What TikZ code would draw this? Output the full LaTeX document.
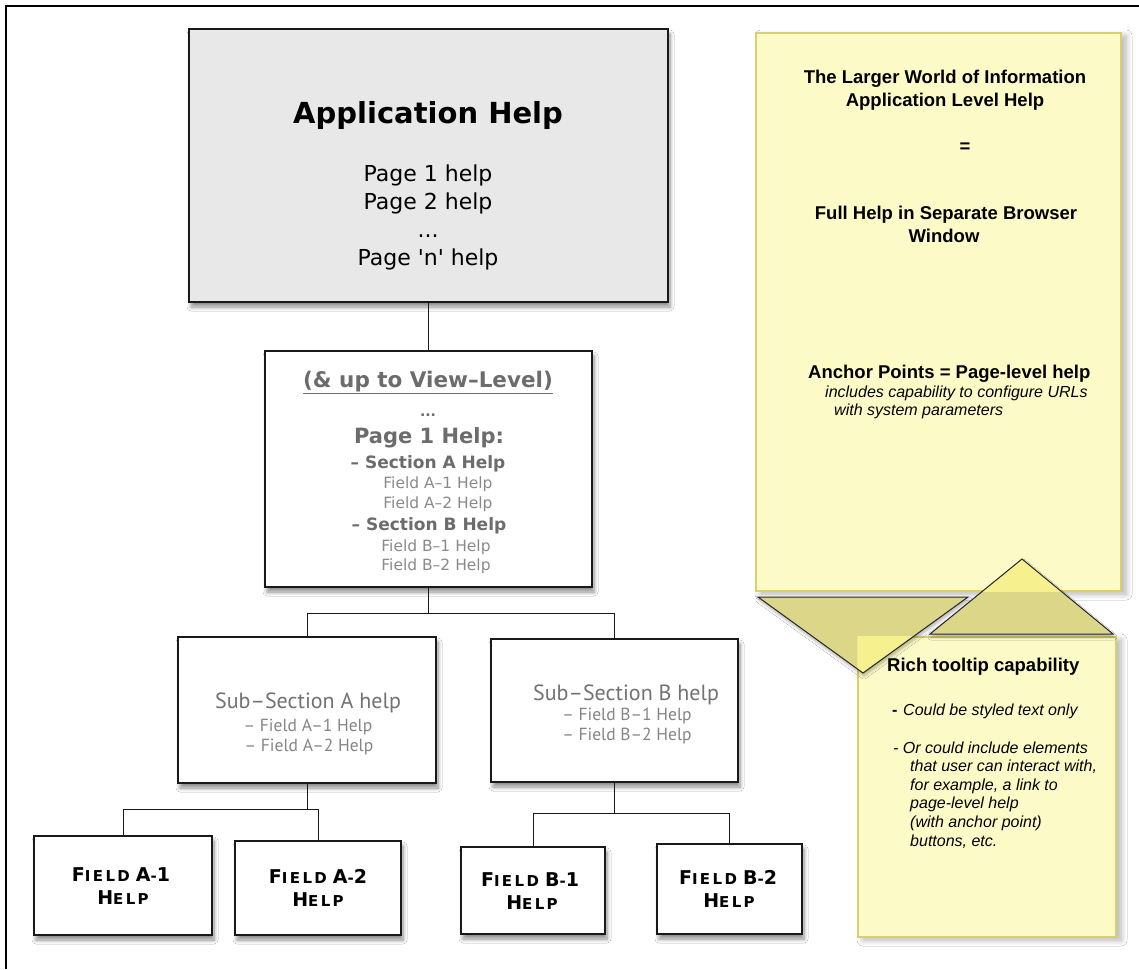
\documentclass[tikz,border=0pt]{standalone}
\usepackage{fontspec}
\setmainfont{DejaVu Sans}
\newfontfamily\gill{PT Sans}
\newfontfamily\helv{Liberation Sans}
\newfontfamily\copper[LetterSpace=16]{DejaVu Sans}
\usetikzlibrary{shadows.blur}
\newcommand{\fs}[1]{\fontsize{#1}{#1}\selectfont}
\newcommand{\cp}[2]{{\fs{19}#1}{\fs{15}#2}}
\newcommand{\cpgap}{\hspace{6pt}}
\definecolor{appfill}{HTML}{E8E8E8}
\definecolor{gtxt}{HTML}{6C6C6C}
\definecolor{ltxt}{HTML}{8A8A8A}
\definecolor{subtitle}{HTML}{727272}
\definecolor{sublines}{HTML}{858585}
\definecolor{tipfill}{HTML}{FCFBC8}
\definecolor{tipline}{HTML}{D6D16E}
\definecolor{tridark}{HTML}{DCD689}
\definecolor{trilight}{HTML}{F7F08E}
\tikzset{
  boxshadow/.style={blur shadow={shadow xshift=2pt, shadow yshift=-5pt, shadow blur radius=4pt, shadow blur steps=8, shadow opacity=45}},
  tipshadow/.style={blur shadow={shadow xshift=5pt, shadow yshift=-3pt, shadow blur radius=6pt, shadow blur steps=8, shadow opacity=30}},
  trishadow/.style={blur shadow={shadow xshift=1pt, shadow yshift=-3pt, shadow blur radius=3pt, shadow blur steps=6, shadow opacity=30}},
  treebox/.style={draw=black!90, line width=1.4pt, fill=white, inner sep=0pt, boxshadow},
  appbox/.style={treebox, fill=appfill, line width=2pt},
  tipbox/.style={draw=tipline, line width=1.3pt, fill=tipfill, inner sep=0pt, tipshadow},
  txt/.style={anchor=base, inner sep=0pt},
  ltxtw/.style={anchor=base west, inner sep=0pt},
  conn/.style={draw=black!90, line width=1pt},
  tri/.style={draw=black!85, line width=1pt, line join=miter},
}
\begin{document}
\begin{tikzpicture}[x=1pt,y=-1pt]
\useasboundingbox (0,0) rectangle (1139,969);
\fill[white] (0,0) rectangle (1139,969);
\draw[line width=2pt] (6,969) -- (6,6) -- (1139,6);

% tree boxes
\node[appbox, minimum width=479pt, minimum height=273pt] (app) at (428.5,165.5) {};
\node[treebox, minimum width=327pt, minimum height=236pt] (view) at (428.5,469) {};
\node[treebox, minimum width=258pt, minimum height=146pt] (subA) at (307,710) {};
\node[treebox, minimum width=247pt, minimum height=143pt] (subB) at (614.5,710.5) {};
\node[treebox, minimum width=178pt, minimum height=99pt] (fA1) at (123,885.5) {};
\node[treebox, minimum width=166pt, minimum height=94pt] (fA2) at (318,888) {};
\node[treebox, minimum width=144pt, minimum height=87pt] (fB1) at (533,890.5) {};
\node[treebox, minimum width=145pt, minimum height=90pt] (fB2) at (729.5,889) {};

% connectors
\coordinate (j1) at (428.5,613);
\coordinate (j2) at (307,809);
\coordinate (j3) at (614.5,813);
\draw[conn] (app.south) -- (view.north);
\draw[conn] (view.south) -- (j1) -| (subA.north);
\draw[conn] (j1) -| (subB.north);
\draw[conn] (subA.south) -- (j2) -| (fA1.north);
\draw[conn] (j2) -| (fA2.north);
\draw[conn] (subB.south) -- (j3) -| (fB1.north);
\draw[conn] (j3) -| (fB2.north);

% application help text
\node[txt, font={\bfseries\fs{29}}] (a1) at (428,123) {Application Help};
\node[txt, font={\fs{22}}] (a2) at (428,181) {Page 1 help};
\node[txt, font={\fs{22}}] (a3) at (428,209) {Page 2 help};
\node[txt, font={\fs{22}}] (a4) at (428,237) {...};
\node[txt, font={\fs{22}}] (a5) at (428,265) {Page \textquotesingle n\textquotesingle\ help};

% view-level text
\node[txt, text=gtxt, font={\bfseries\fs{21.5}}] (v1) at (428,387) {\underline{(\&~up to View–Level)}};
\node[txt, text=gtxt, font={\bfseries\fs{14}}] (v2) at (428,416) {...};
\node[txt, text=gtxt, font={\bfseries\fs{21}}] (v3) at (429,443) {Page 1 Help:};
\node[txt, text=gtxt, font={\bfseries\fs{17}}] (v4) at (428,468) {– Section A Help};
\node[txt, text=ltxt, font={\fs{15.5}}] (v5) at (438,488) {Field A–1 Help};
\node[txt, text=ltxt, font={\fs{15.5}}] (v6) at (438,508) {Field A–2 Help};
\node[txt, text=gtxt, font={\bfseries\fs{17}}] (v7) at (429,530) {– Section B Help};
\node[txt, text=ltxt, font={\fs{15.5}}] (v8) at (436,551) {Field B–1 Help};
\node[txt, text=ltxt, font={\fs{15.5}}] (v9) at (436,570) {Field B–2 Help};

% sub-section text
\node[txt, text=subtitle, font={\gill\fs{22}}] (sa1) at (308,708) {Sub–Section A help};
\node[txt, text=sublines, font={\gill\fs{17.5}}] (sa2) at (308,731) {– Field A–1 Help};
\node[txt, text=sublines, font={\gill\fs{17.5}}] (sa3) at (309,751) {– Field A–2 Help};
\node[txt, text=subtitle, font={\gill\fs{22}}] (sb1) at (626,700) {Sub–Section B help};
\node[txt, text=sublines, font={\gill\fs{17.5}}] (sb2) at (627,720) {– Field B–1 Help};
\node[txt, text=sublines, font={\gill\fs{17.5}}] (sb3) at (627,740) {– Field B–2 Help};

% field boxes text
\node[txt, font={\copper\bfseries}] (fa1a) at (121,881) {\cp{F}{IELD}\cpgap\cp{A}{-}{\fs{19}1}};
\node[txt, font={\copper\bfseries}] (fa1b) at (123,904) {\cp{H}{ELP}};
\node[txt, font={\copper\bfseries}] (fa2a) at (318,883) {\cp{F}{IELD}\cpgap\cp{A}{-}{\fs{19}2}};
\node[txt, font={\copper\bfseries}] (fa2b) at (318,906) {\cp{H}{ELP}};
\node[txt, font={\copper\bfseries}] (fb1a) at (530,886) {\cp{F}{IELD}\cpgap\cp{B}{-}{\fs{19}1}};
\node[txt, font={\copper\bfseries}] (fb1b) at (532,909) {\cp{H}{ELP}};
\node[txt, font={\copper\bfseries}] (fb2a) at (728,884) {\cp{F}{IELD}\cpgap\cp{B}{-}{\fs{19}2}};
\node[txt, font={\copper\bfseries}] (fb2b) at (729,907) {\cp{H}{ELP}};

% tooltip boxes
\node[tipbox, minimum width=365pt, minimum height=558pt] (tipB) at (938.5,312) {};
\node[tipbox, minimum width=258pt, minimum height=300pt] (tipR) at (987,787) {};

% triangles
\fill[tridark, trishadow] (758,597) -- (968,597) -- (863,673) -- cycle;
\fill[tridark, trishadow] (930,634) -- (1113,634) -- (1022,559) -- cycle;
\begin{scope}
  \clip (tipR.south west) rectangle (tipR.north east);
  \fill[trilight] (758,597) -- (968,597) -- (863,673) -- cycle;
\end{scope}
\begin{scope}
  \clip (tipB.south west) rectangle (tipB.north east);
  \fill[trilight] (930,634) -- (1113,634) -- (1022,559) -- cycle;
\end{scope}
\draw[tri] (758,597) -- (968,597) -- (863,673) -- cycle;
\draw[tri] (930,634) -- (1113,634) -- (1022,559) -- cycle;

% big tooltip text
\node[txt, font={\helv\bfseries\fs{18.5}}] (b1) at (945,83) {The Larger World of Information};
\node[txt, font={\helv\bfseries\fs{18.5}}] (b2) at (945,106) {Application Level Help};
\node[txt, font={\helv\bfseries\fs{18.5}}] (b3) at (965,152) {=};
\node[txt, font={\helv\bfseries\fs{18.5}}] (b4) at (946,219) {Full Help in Separate Browser};
\node[txt, font={\helv\bfseries\fs{18.5}}] (b5) at (944,242) {Window};
\node[ltxtw, font={\helv\bfseries\fs{18.5}}] (b6) at (808,378) {Anchor Points = Page-level help};
\node[ltxtw, font={\helv\itshape\fs{16}}] (b7) at (825,397) {includes capability to configure URLs};
\node[ltxtw, font={\helv\itshape\fs{16}}] (b8) at (834,415) {with system parameters};

% rich tooltip text
\node[ltxtw, font={\helv\bfseries\fs{18.5}}] (r1) at (887,671) {Rich tooltip capability};
\node[ltxtw, font={\helv\bfseries\fs{16}}] (r2) at (892,715) {-};
\node[ltxtw, font={\helv\itshape\fs{16}}] (r3) at (903,715) {Could be styled text only};
\node[ltxtw, font={\helv\itshape\fs{16}}] (r4) at (893,753) {- Or could include elements};
\node[ltxtw, font={\helv\itshape\fs{16}}] (r5) at (910,771) {that user can interact with,};
\node[ltxtw, font={\helv\itshape\fs{16}}] (r6) at (910,790) {for example, a link to};
\node[ltxtw, font={\helv\itshape\fs{16}}] (r7) at (910,808) {page-level help};
\node[ltxtw, font={\helv\itshape\fs{16}}] (r8) at (910,827) {(with anchor point)};
\node[ltxtw, font={\helv\itshape\fs{16}}] (r9) at (910,846) {buttons, etc.};
\end{tikzpicture}
\end{document}
